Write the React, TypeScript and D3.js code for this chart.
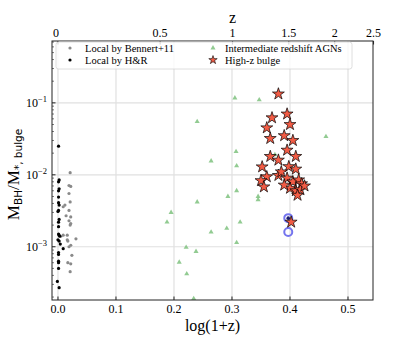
import React from 'react';
import * as d3 from 'd3';

// Local by H&R  [log(1+z), MBH/M*]
const hrX = [0.001, 0.002, 0.001, 0.002, 0.001, 0.001, 0.001, 0.002, 0.001, 0.0, 0.002, 0.001, 0.001, 0.001, 0.002, 0.003, 0.0, 0.002, 0.004, 0.009, 0.001, 0.001, 0.001, 0.001, 0.001, -0.001, 0.002];
const hrY = [0.025, 0.0085, 0.008, 0.0064, 0.006, 0.0049, 0.0041, 0.0038, 0.0032, 0.0031, 0.0024, 0.0022, 0.0019, 0.0015, 0.00145, 0.0014, 0.00125, 0.0012, 0.00109, 0.00094, 0.00083, 0.00078, 0.00063, 0.0006, 0.0005, 0.00033, 0.00027];

// Local by Bennert+11
const benX = [0.021, 0.019, 0.022, 0.019, 0.021, 0.012, 0.009, 0.019, 0.014, 0.022, 0.019, 0.022, 0.021, 0.005, 0.009, 0.016, 0.031, 0.016, 0.017, 0.022, 0.019, 0.024, 0.017, 0.022, 0.021];
const benY = [0.0107, 0.0071, 0.0069, 0.0055, 0.0042, 0.0038, 0.0036, 0.0032, 0.0027, 0.0026, 0.0023, 0.0021, 0.0020, 0.0014, 0.00145, 0.00145, 0.00129, 0.00125, 0.0012, 0.00105, 0.001, 0.00076, 0.0006, 0.00058, 0.00045];

// Intermediate redshift AGNs
const agnX = [0.305, 0.347, 0.24, 0.307, 0.264, 0.308, 0.374, 0.308, 0.293, 0.345, 0.345, 0.24, 0.195, 0.188, 0.314, 0.264, 0.291, 0.308, 0.221, 0.238, 0.209, 0.222, 0.234, 0.462];
const agnY = [0.117, 0.11, 0.055, 0.021, 0.0156, 0.0133, 0.019, 0.006, 0.005, 0.005, 0.0045, 0.0042, 0.003, 0.0022, 0.0022, 0.0016, 0.0018, 0.00114, 0.00098, 0.00086, 0.00061, 0.00042, 0.00019, 0.034];

// High-z bulge
const hzX = [0.380, 0.369, 0.360, 0.366, 0.366, 0.352, 0.360, 0.350, 0.355, 0.380, 0.380, 0.395, 0.400, 0.390, 0.405, 0.395, 0.410, 0.398, 0.385, 0.410, 0.395, 0.405, 0.415, 0.420, 0.400, 0.410, 0.418, 0.425, 0.413, 0.390, 0.402];
const hzY = [0.133, 0.062, 0.045, 0.032, 0.018, 0.0129, 0.0094, 0.0083, 0.0068, 0.016, 0.0098, 0.07, 0.05, 0.035, 0.03, 0.022, 0.018, 0.013, 0.011, 0.012, 0.009, 0.008, 0.0085, 0.0075, 0.0065, 0.006, 0.0062, 0.007, 0.0052, 0.0072, 0.0022];

// circled objects
const ringX = [0.397, 0.397];
const ringY = [0.0025, 0.0016];

const xTicks = [0, 0.1, 0.2, 0.3, 0.4, 0.5];
const yTicks = [1e-3, 1e-2, 1e-1];
const zTicks = [0, 0.5, 1, 1.5, 2, 2.5];
const zLabels = ['0', '0.5', '1', '1.5', '2', '2.5'];

const W = 415, H = 344;
const m = { left: 52, right: 373, top: 41, bottom: 300 };
const serif = 'Liberation Serif, serif';
const sans = 'DejaVu Sans, sans-serif';

export default function App() {
  const x = d3.scaleLinear().domain([-0.0103, 0.5431]).range([m.left, m.right]);
  const y = d3.scaleLog().domain([10 ** -3.74, 10 ** -0.14]).range([m.bottom, m.top]);

  const star = d3.symbol().type(d3.symbolStar).size(44)() as string;
  const tri = d3.symbol().type(d3.symbolTriangle).size(11)() as string;

  const minorY: number[] = [];
  for (let e = -4; e <= 0; e++) for (let k = 2; k <= 9; k++) {
    const v = k * 10 ** e;
    if (v > y.domain()[0] && v < y.domain()[1]) minorY.push(v);
  }
  const zPos = (z: number) => Math.max(x(Math.log10(1 + z)), m.left);

  return (
    <svg width={W} height={H} style={{ position: 'absolute', left: 0, top: 0, background: '#fff' }}>
      {/* grid */}
      {xTicks.map(t => (
        <line key={'gx' + t} x1={x(t)} x2={x(t)} y1={m.top} y2={m.bottom} stroke="#e0e0e0" strokeWidth={1.2} />
      ))}
      {yTicks.map(t => (
        <line key={'gy' + t} x1={m.left} x2={m.right} y1={y(t)} y2={y(t)} stroke="#e0e0e0" strokeWidth={1.2} />
      ))}

      <g>
        {benX.map((v, i) => (
          <circle key={'b' + i} cx={x(v)} cy={y(benY[i])} r={1.6} fill="#8a8a8a" />
        ))}
        {hrX.map((v, i) => (
          <circle key={'h' + i} cx={x(v)} cy={y(hrY[i])} r={1.6} fill="#000" />
        ))}
        {agnX.map((v, i) => (
          <path key={'a' + i} d={tri} transform={`translate(${x(v)},${y(agnY[i])})`} fill="#7fc27f" opacity={0.85} />
        ))}
        {ringX.map((v, i) => (
          <circle key={'r' + i} cx={x(v)} cy={y(ringY[i])} r={4} fill="none" stroke="#7474ee" strokeWidth={2} />
        ))}
        <circle cx={x(ringX[0])} cy={y(ringY[0])} r={1.8} fill="#1a1a6e" />
        {hzX.map((v, i) => (
          <path key={'s' + i} d={star} transform={`translate(${x(v)},${y(hzY[i])})`} fill="#f25c45" stroke="#000" strokeWidth={0.7} />
        ))}
      </g>

      {/* frame */}
      <rect x={m.left} y={m.top} width={m.right - m.left} height={m.bottom - m.top} fill="none" stroke="#222" strokeWidth={1} />

      {/* bottom axis */}
      {xTicks.map(t => (
        <g key={'xt' + t}>
          <line x1={x(t)} x2={x(t)} y1={m.bottom} y2={m.bottom - 3.5} stroke="#222" />
          <text x={x(t)} y={m.bottom + 13} fontSize={12} fontFamily={serif} textAnchor="middle">{t.toFixed(1)}</text>
        </g>
      ))}
      <text x={(m.left + m.right) / 2} y={m.bottom + 31} fontSize={16} fontFamily={serif} textAnchor="middle">log(1+z)</text>

      {/* top axis */}
      {zTicks.map((t, i) => (
        <g key={'zt' + t}>
          <line x1={zPos(t)} x2={zPos(t)} y1={m.top} y2={m.top + 3.5} stroke="#222" />
          <text x={zPos(t) - (t === 0 ? 2 : 0)} y={m.top - 4} fontSize={12} fontFamily={serif} textAnchor="middle">{zLabels[i]}</text>
        </g>
      ))}
      <text x={x(Math.log10(2))} y={23} fontSize={16} fontFamily={serif} textAnchor="middle">z</text>

      {/* left axis */}
      {yTicks.map(t => (
        <g key={'yt' + t}>
          <line x1={m.left} x2={m.left + 3.5} y1={y(t)} y2={y(t)} stroke="#222" />
          <text x={m.left - 5} y={y(t) + 4} fontSize={12} fontFamily={serif} textAnchor="end">
            10<tspan dy={-5} fontSize={8.5}>{'\u2212' + Math.round(-Math.log10(t))}</tspan>
          </text>
        </g>
      ))}
      {minorY.map(t => (
        <line key={'my' + t} x1={m.left} x2={m.left + 2} y1={y(t)} y2={y(t)} stroke="#222" strokeWidth={0.6} />
      ))}
      <text transform={`translate(19,${(m.top + m.bottom) / 2 + 4}) rotate(-90)`} textAnchor="middle" fontFamily={serif} fontSize={17}>
        M<tspan fontFamily={sans} fontSize={10.5} dy={3}>BH</tspan>
        <tspan dy={-3}>/M</tspan>
        <tspan fontFamily={sans} fontSize={10.5} dy={3}>{'*, bulge'}</tspan>
      </text>

      {/* legend */}
      <rect x={56} y={42} width={296} height={27} rx={2.5} fill="#fff" fillOpacity={0.8} stroke="#d6d6d6" strokeWidth={0.8} />
      <circle cx={70} cy={48} r={1.6} fill="#8a8a8a" />
      <text x={85} y={51.5} fontSize={10.5} fontFamily={serif}>Local by Bennert+11</text>
      <circle cx={70} cy={60} r={1.6} fill="#000" />
      <text x={85} y={63.5} fontSize={10.5} fontFamily={serif}>Local by H&amp;R</text>
      <path d={tri} transform="translate(213,48)" fill="#7fc27f" opacity={0.85} />
      <text x={225} y={51.5} fontSize={10.5} fontFamily={serif}>Intermediate redshift AGNs</text>
      <path d={d3.symbol().type(d3.symbolStar).size(22)() as string} transform="translate(213,60)" fill="#f25c45" stroke="#000" strokeWidth={0.6} />
      <text x={225} y={63.5} fontSize={10.5} fontFamily={serif}>High-z bulge</text>
    </svg>
  );
}
